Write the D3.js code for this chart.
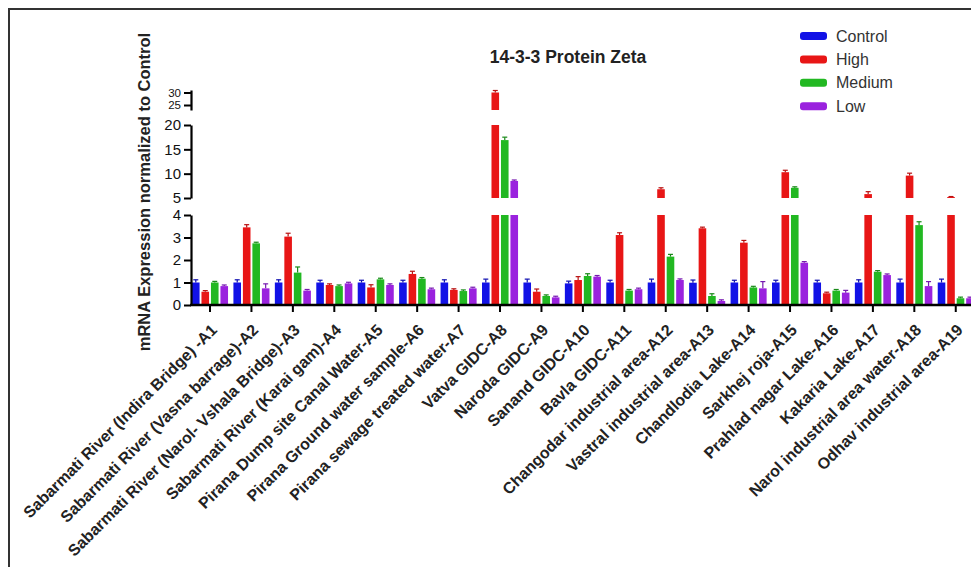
<!DOCTYPE html>
<html>
<head>
<meta charset="utf-8">
<script src="https://cdn.jsdelivr.net/npm/d3@7/dist/d3.min.js"></script>
<style>
  html, body { margin: 0; padding: 0; background: #fff; }
  svg { display: block; overflow: hidden; }
  text { font-family: Arial, "Liberation Sans", sans-serif; }
</style>
</head>
<body>
<svg id="chart" width="971" height="567"></svg>
<script>
const categories = [
  "Sabarmati River (Indira Bridge) -A1",
  "Sabarmati River (Vasna barrage)-A2",
  "Sabarmati River (Narol- Vshala Bridge)-A3",
  "Sabarmati River (Karai gam)-A4",
  "Pirana Dump site Canal Water-A5",
  "Pirana Ground water sample-A6",
  "Pirana sewage treated water-A7",
  "Vatva GIDC-A8",
  "Naroda GIDC-A9",
  "Sanand GIDC-A10",
  "Bavla GIDC-A11",
  "Changodar industrial area-A12",
  "Vastral industrial area-A13",
  "Chandlodia Lake-A14",
  "Sarkhej roja-A15",
  "Prahlad nagar Lake-A16",
  "Kakaria Lake-A17",
  "Narol industrial area water-A18",
  "Odhav industrial area-A19"
];
const seriesNames = ["Control", "High", "Medium", "Low"];
const controlVals = [1.0,1.0,1.0,1.0,1.0,1.0,1.0,1.0,1.0,0.96,1.0,1.0,0.99,1.0,1.0,1.0,1.0,1.0,1.0];
const highVals    = [0.59,3.45,3.04,0.89,0.78,1.38,0.67,30.0,0.59,1.11,3.11,6.8,3.41,2.77,10.3,0.52,5.8,9.6,5.2];
const mediumVals  = [1.0,2.74,1.44,0.84,1.14,1.17,0.62,16.9,0.40,1.29,0.64,2.15,0.40,0.78,7.1,0.64,1.48,3.55,0.30];
const lowVals     = [0.84,0.74,0.64,0.96,0.89,0.70,0.74,8.5,0.34,1.26,0.70,1.11,0.18,0.74,1.88,0.55,1.33,0.84,0.30];
const controlErr  = [0.12,0.12,0.12,0.1,0.1,0.1,0.12,0.15,0.15,0.1,0.1,0.15,0.12,0.1,0.1,0.1,0.12,0.15,0.15];
const highErr     = [0.05,0.12,0.15,0.05,0.12,0.12,0.05,0.8,0.12,0.15,0.1,0.3,0.05,0.1,0.4,0.05,0.5,0.5,0.1];
const mediumErr   = [0.05,0.05,0.25,0.05,0.05,0.05,0.05,0.6,0.05,0.1,0.05,0.1,0.1,0.05,0.2,0.05,0.05,0.15,0.05];
const lowErr      = [0.05,0.2,0.05,0.05,0.05,0.05,0.05,0.2,0.05,0.05,0.05,0.05,0.05,0.3,0.05,0.1,0.05,0.2,0.05];
const seg0Ticks = [0,1,2,3,4];
const seg1Ticks = [5,10,15,20];
const seg2Ticks = [25,30];

const colors = ["#1212e6", "#e81616", "#22b822", "#9a22de"];
const errColors = ["#0c0cb0", "#b81010", "#188a18", "#7618b0"];
const allVals = [controlVals, highVals, mediumVals, lowVals];
const allErr = [controlErr, highErr, mediumErr, lowErr];

const svg = d3.select("#chart");

// frame
svg.append("rect").attr("x", 9).attr("y", 9).attr("width", 1000).attr("height", 600)
  .attr("fill", "none").attr("stroke", "#333").attr("stroke-width", 2);

const axisX = 191;
const step = 41.43;
const x = d3.scaleBand().domain(categories)
  .range([axisX - 1.7, axisX - 1.7 + step * categories.length])
  .paddingInner(0.13).paddingOuter(0.065);
const xs = d3.scaleBand().domain(seriesNames).range([0, x.bandwidth()]).paddingInner(0.2);

const segments = [
  { scale: d3.scaleLinear().domain([0, 4]).range([305, 215]), ticks: seg0Ticks, lo: 0 },
  { scale: d3.scaleLinear().domain([5, 20]).range([198, 125]), ticks: seg1Ticks, lo: 5 },
  { scale: d3.scaleLinear().domain([23, 31]).range([110, 90]), ticks: seg2Ticks, lo: 23 }
];

// bars
const g = svg.append("g");
categories.forEach((cat, i) => {
  seriesNames.forEach((s, k) => {
    const v = allVals[k][i];
    const e = allErr[k][i];
    const bx = x(cat) + xs(s);
    const bw = xs.bandwidth();
    let errSeg = segments[0];
    segments.forEach(seg => {
      const [d0, d1] = seg.scale.domain();
      if (v > seg.lo) {
        const hi = Math.min(v, d1);
        g.append("rect").attr("x", bx).attr("width", bw)
          .attr("y", seg.scale(hi)).attr("height", seg.scale(seg.lo) - seg.scale(hi))
          .attr("fill", colors[k]);
        if (v <= d1) errSeg = seg;
      }
    });
    const cx = bx + bw / 2;
    const y0 = errSeg.scale(v), y1 = errSeg.scale(v + e);
    g.append("line").attr("x1", cx).attr("x2", cx).attr("y1", y0).attr("y2", y1)
      .attr("stroke", errColors[k]).attr("stroke-width", 1.2);
    g.append("line").attr("x1", cx - 2.5).attr("x2", cx + 2.5).attr("y1", y1).attr("y2", y1)
      .attr("stroke", errColors[k]).attr("stroke-width", 1.2);
  });
});

// y axis segments
segments.forEach((seg, si) => {
  const ax = svg.append("g").attr("transform", `translate(${axisX},0)`)
    .call(d3.axisLeft(seg.scale).tickValues(seg.ticks).tickSize(7).tickSizeOuter(0).tickPadding(3).tickFormat(d3.format("d")));
  ax.select(".domain").attr("stroke", "#000").attr("stroke-width", 2.2);
  ax.selectAll(".tick line").attr("stroke", "#000").attr("stroke-width", 2);
  ax.selectAll(".tick text").attr("fill", "#111").style("font-size", si === 2 ? "11.5px" : "15px")
    .style("font-family", "Arial, 'Liberation Sans', sans-serif");
});

// x axis
const xAxisY = 305;
svg.append("line").attr("x1", axisX - 1).attr("x2", 975).attr("y1", xAxisY).attr("y2", xAxisY)
  .attr("stroke", "#000").attr("stroke-width", 2.4);
const xt = svg.append("g");
categories.forEach(cat => {
  const cx = x(cat) + x.bandwidth() / 2;
  xt.append("line").attr("x1", cx).attr("x2", cx).attr("y1", xAxisY).attr("y2", xAxisY + 7)
    .attr("stroke", "#000").attr("stroke-width", 2);
  xt.append("text").attr("transform", `translate(${cx + 4},${xAxisY + 22}) rotate(-45)`)
    .attr("text-anchor", "end").attr("dy", "0.35em")
    .style("font-size", "16px").style("font-weight", "bold").attr("fill", "#222")
    .text(cat);
});

// y label
svg.append("text").attr("transform", "translate(150,192) rotate(-90)")
  .attr("text-anchor", "middle").style("font-size", "16.5px").style("font-weight", "bold")
  .attr("fill", "#222").text("mRNA Expression normalized to Control");

// title
svg.append("text").attr("x", 568).attr("y", 63).attr("text-anchor", "middle")
  .style("font-size", "17.5px").style("font-weight", "bold").attr("fill", "#222")
  .text("14-3-3 Protein Zeta");

// legend
const legend = svg.append("g");
seriesNames.forEach((s, k) => {
  const ly = 36 + k * 23.4;
  legend.append("rect").attr("x", 800).attr("y", ly - 4).attr("width", 27).attr("height", 8)
    .attr("rx", 3).attr("fill", colors[k]);
  legend.append("text").attr("x", 836).attr("y", ly).attr("dy", "0.35em")
    .style("font-size", "16px").attr("fill", "#333").text(s);
});
</script>
</body>
</html>
